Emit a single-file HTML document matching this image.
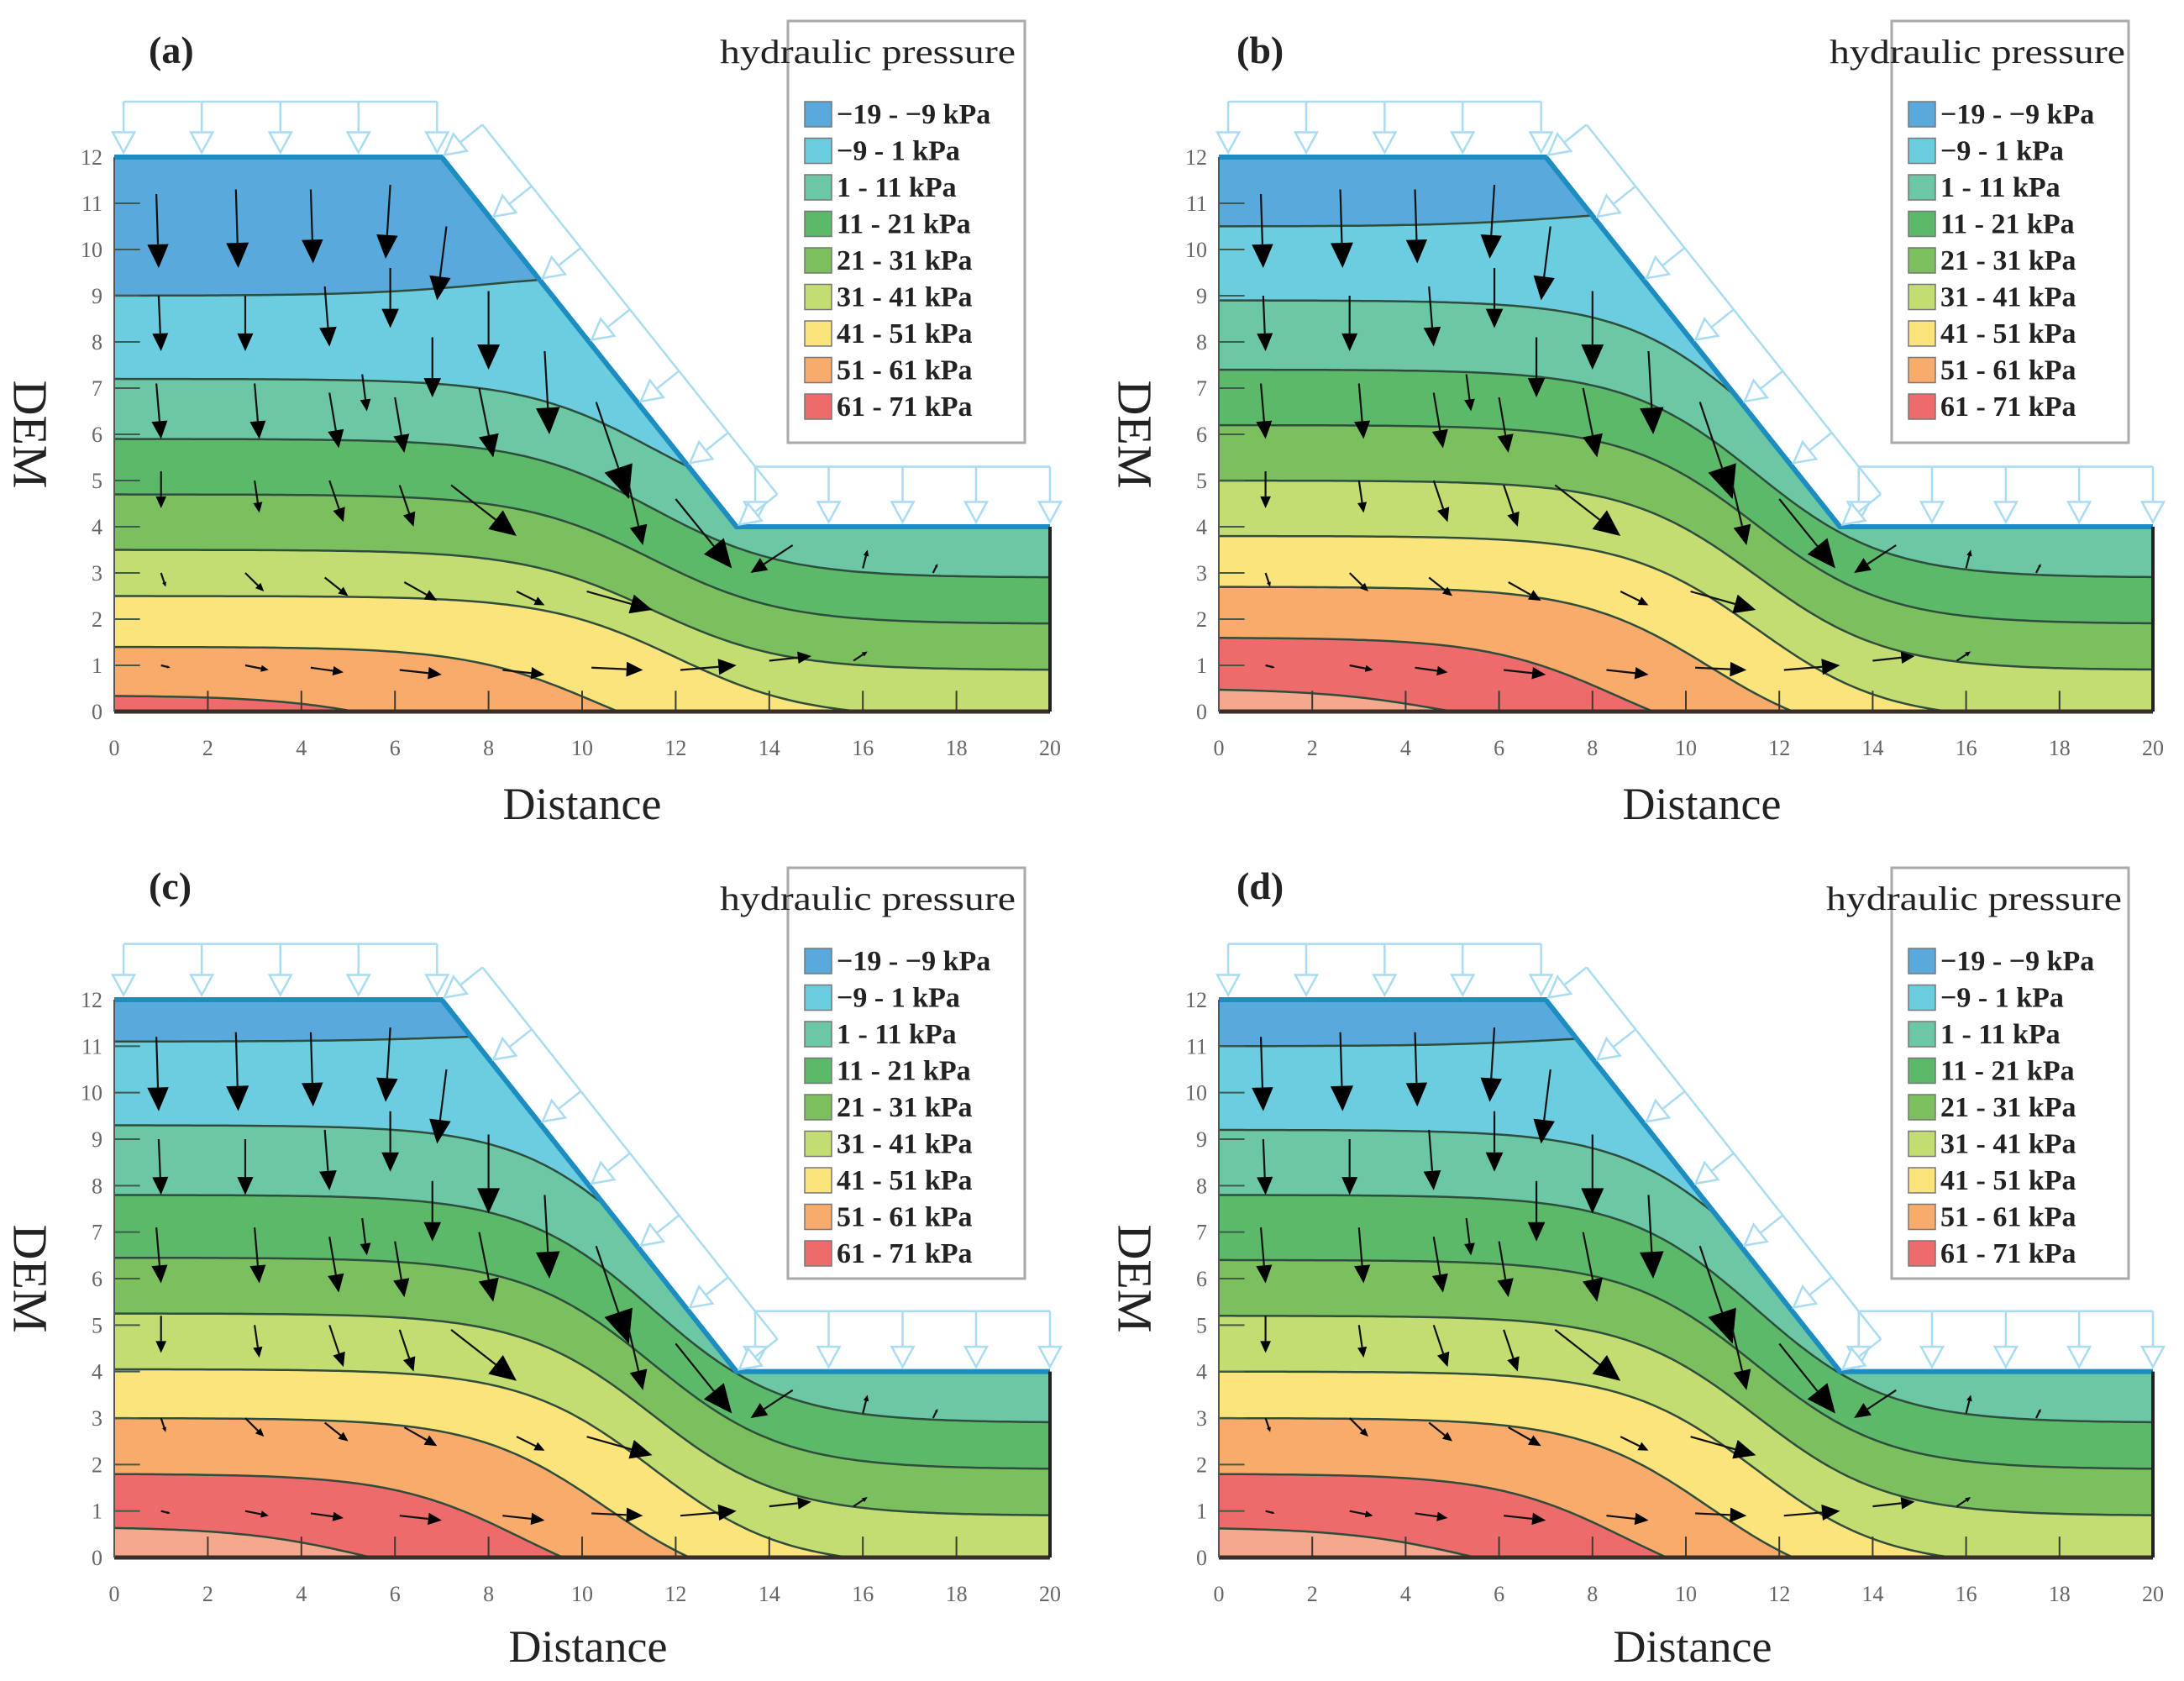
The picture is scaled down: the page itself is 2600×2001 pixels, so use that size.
<!DOCTYPE html>
<html><head><meta charset="utf-8"><style>
html,body{margin:0;padding:0;background:#fff;}
svg{display:block;}
</style></head><body>
<svg id="fig" xmlns="http://www.w3.org/2000/svg" width="2600" height="2001" viewBox="0 0 2600 2001"></svg>
<script>
// ---- data ----
const xTicks=[0,2,4,6,8,10,12,14,16,18,20];
const yTicks=[0,1,2,3,4,5,6,7,8,9,10,11,12];
const legendLabels=['\u221219 - \u22129 kPa','\u22129 - 1 kPa','1 - 11 kPa','11 - 21 kPa','21 - 31 kPa','31 - 41 kPa','41 - 51 kPa','51 - 61 kPa','61 - 71 kPa'];
const bandColors=['#5aa9dc','#6ccde0','#6cc7a4','#5cb96a','#7bbf5e','#c4dd72','#fbe47b','#f8ab6b','#ee6b6b','#f5a88e'];
const panelLetters=['(a)','(b)','(c)','(d)'];
const leftA=[9.0,7.2,5.9,4.7,3.5,2.5,1.4,0.35];
const rightA=[9.5,4.2,2.9,1.9,0.9,-0.15,-1,-1];
const centerA=[8,11.5,11.5,11.5,11.5,12,10.3,6.6];
const leftB=[10.5,8.9,7.4,6.2,5.0,3.8,2.7,1.6,0.5];
const rightB=[10.9,4.0,2.9,1.9,0.9,-0.2,-0.75,-0.9,-0.5];
const centerB=[7.5,11.5,11.5,11.5,11.5,11.5,10.5,8.5,5];
const leftC=[11.1,9.3,7.8,6.45,5.25,4.05,3.0,1.8,0.66];
const rightC=[11.3,4.0,2.9,1.9,0.9,-0.2,-0.83,-0.95,-0.66];
const centerC=[7.5,11.5,11.5,11.5,11.5,11.5,10.5,8.7,5.5];
const leftD=[11.0,9.2,7.8,6.4,5.2,4.0,3.0,1.8,0.65];
const rightD=[11.3,4.0,2.9,1.9,0.9,-0.2,-0.83,-0.95,-0.65];
const centerD=[7.5,11.5,11.5,11.5,11.5,11.5,10.5,8.7,5.5];
// flow vectors in data units
const arrowStartX=[0.9,2.6,4.2,5.9,7.1,0.95,2.8,4.5,5.9,8.0,9.2,6.8,5.3,0.9,3.0,4.6,6.0,7.8,10.3,11.0,1.0,3.0,4.6,6.1,7.2,12.0,14.5,1.0,2.8,4.5,6.2,8.6,10.1,1.0,2.8,4.2,6.1,8.3,10.2,12.1,14.0,15.8,16.0,17.5];
const arrowStartY=[11.2,11.3,11.3,11.4,10.5,9.0,9.0,9.2,9.6,9.1,7.8,8.1,7.3,7.1,7.1,6.9,6.8,7.0,6.7,4.9,5.2,5.0,5.0,4.9,4.9,4.6,3.6,3.0,3.0,2.9,2.8,2.6,2.6,1.0,1.0,0.95,0.9,0.9,0.95,0.9,1.1,1.1,3.1,3.0];
const arrowEndX=[0.95,2.65,4.25,5.8,6.9,1.0,2.8,4.6,5.9,8.0,9.3,6.8,5.4,1.0,3.1,4.8,6.2,8.1,11.0,11.3,1.0,3.1,4.9,6.4,8.6,13.2,13.6,1.1,3.2,5.0,6.9,9.2,11.5,1.2,3.3,4.9,7.0,9.2,11.3,13.3,14.9,16.1,16.1,17.6];
const arrowEndY=[9.6,9.6,9.7,9.8,8.9,7.8,7.8,7.9,8.3,7.4,6.0,6.8,6.5,5.9,5.9,5.7,5.6,5.5,4.6,3.6,4.4,4.3,4.1,4.0,3.8,3.1,3.0,2.7,2.6,2.5,2.4,2.3,2.2,0.95,0.9,0.85,0.8,0.8,0.9,1.0,1.2,1.3,3.5,3.2];
// ---- layout ----
const panels=[
 {left:leftA,right:rightA,center:centerA,x0:136,x1:1250,yb:847,yt:187,lx:938,ly:25,lh:502,tx:1033,label:[177,75],dem:36,dist:693,distY:975},
 {left:leftB,right:rightB,center:centerB,x0:1451,x1:2563,yb:847,yt:187,lx:2252,ly:25,lh:502,tx:2354,label:[1472,75],dem:1351,dist:2026,distY:975},
 {left:leftC,right:rightC,center:centerC,x0:136,x1:1250,yb:1854,yt:1190,lx:938,ly:1033,lh:489,tx:1033,label:[177,1070],dem:36,dist:700,distY:1978},
 {left:leftD,right:rightD,center:centerD,x0:1451,x1:2563,yb:1854,yt:1190,lx:2252,ly:1033,lh:489,tx:2350,label:[1472,1070],dem:1351,dist:2015,distY:1978}
];
const NS='http://www.w3.org/2000/svg';
const svg=document.getElementById('fig');
function mk(tag,attrs,parent){const e=document.createElementNS(NS,tag);for(const k in attrs)e.setAttribute(k,attrs[k]);(parent||svg).appendChild(e);return e;}
const W=1.4;
function bnd(L,R,c,x){return R+(L-R)/(1+Math.exp((x-c)/W));}
const serif='"Liberation Serif", serif';

panels.forEach((p,pi)=>{
  const g=mk('g',{});
  
  
  const sx=v=>p.x0+(p.x1-p.x0)*v/20;
  const sy=v=>p.yb-(p.yb-p.yt)*v/12;
  const dom=[[0,0],[0,12],[7,12],[13.3,4],[20,4],[20,0]];
  const domStr=dom.map(q=>sx(q[0])+','+sy(q[1])).join(' ');
  const cp=mk('clipPath',{id:'clip'+pi},g);
  mk('polygon',{points:domStr},cp);
  const cg=mk('g',{'clip-path':'url(#clip'+pi+')'},g);
  const bg=mk('polygon',{points:domStr,fill:bandColors[0]},cg);
  
  
  const curves=[];
  p.left.forEach((L,i)=>{
    const pts=[];
    for(let x=0;x<=20.001;x+=0.1){pts.push(sx(x).toFixed(1)+','+sy(bnd(L,p.right[i],p.center[i],x)).toFixed(1));}
    curves.push(pts);
    const poly=mk('polygon',{points:pts.join(' ')+' '+sx(20)+','+sy(-1)+' '+sx(0)+','+sy(-1),fill:bandColors[i+1]},cg);
    
    
  });
  curves.forEach((pts,i)=>{
    const pl=mk('polyline',{points:pts.join(' '),fill:'none',stroke:'#2f4d3c','stroke-width':2.5},cg);
    
    
  });
  yTicks.forEach(t=>{mk('line',{x1:sx(0),x2:sx(0.55),y1:sy(t),y2:sy(t),stroke:'#3d5a4a','stroke-width':2},cg);});
  xTicks.forEach(t=>{if(t>0&&t<20)mk('line',{x1:sx(t),x2:sx(t),y1:sy(0),y2:sy(0.45),stroke:'#3d3a30','stroke-width':2},cg);});
  arrowStartX.forEach((ax,i)=>{
    const x0=sx(ax),y0=sy(arrowStartY[i]),x1=sx(arrowEndX[i]),y1=sy(arrowEndY[i]);
    const dx=x1-x0,dy=y1-y0,len=Math.hypot(dx,dy),ux=dx/len,uy=dy/len;
    const hl=Math.min(0.32*len,48),hw=hl*0.45;
    const bx=x1-ux*hl,by=y1-uy*hl;
    const a=mk('g',{},cg);
    
    
    mk('line',{x1:x0,y1:y0,x2:bx,y2:by,stroke:'#111','stroke-width':2.2},a);
    mk('polygon',{points:x1+','+y1+' '+(bx-uy*hw)+','+(by+ux*hw)+' '+(bx+uy*hw)+','+(by-ux*hw),fill:'#000'},a);
  });
  const surf=mk('polyline',{points:[[0,12],[7,12],[13.3,4],[20,4]].map(q=>sx(q[0])+','+sy(q[1])).join(' '),fill:'none',stroke:'#1d8cc0','stroke-width':6},g);
  
  
  mk('line',{x1:sx(0),x2:sx(20),y1:sy(0),y2:sy(0),stroke:'#3a2f28','stroke-width':5},g);
  mk('line',{x1:sx(20),x2:sx(20),y1:sy(0),y2:sy(4),stroke:'#222','stroke-width':4},g);
  mk('line',{x1:sx(0),x2:sx(0),y1:sy(0),y2:sy(12),stroke:'#555','stroke-width':2},g);
  const lc='#a9dcf2';
  const lg=mk('g',{fill:'none',stroke:lc,'stroke-width':2.5},g);
  
  
  function loadArrow(xa,ya,xb,yb){
    mk('line',{x1:xa,y1:ya,x2:xb,y2:yb},lg);
    const dx=xb-xa,dy=yb-ya,l=Math.hypot(dx,dy),ux=dx/l,uy=dy/l,h=24,w=13;
    const bx=xb-ux*h,by=yb-uy*h;
    mk('polygon',{points:xb+','+yb+' '+(bx-uy*w)+','+(by+ux*w)+' '+(bx+uy*w)+','+(by-ux*w),fill:'#fff'},lg);
  }
  mk('line',{x1:sx(0.2),x2:sx(6.9),y1:sy(13.2),y2:sy(13.2)},lg);
  [0.2,1.87,3.55,5.22,6.9].forEach(x=>loadArrow(sx(x),sy(13.2),sx(x),sy(12.1)));
  mk('line',{x1:sx(13.7),x2:sx(20),y1:sy(5.3),y2:sy(5.3)},lg);
  [13.7,15.27,16.85,18.42,20].forEach(x=>loadArrow(sx(x),sy(5.3),sx(x),sy(4.1)));
  const ax0=sx(7),ay0=sy(12),ax1=sx(13.3),ay1=sy(4);
  const sdx=ax1-ax0,sdy=ay1-ay0,sl=Math.hypot(sdx,sdy),nx=sdy/sl,ny=-sdx/sl,off=62;
  mk('line',{x1:ax0+nx*off,y1:ay0+ny*off,x2:ax1+nx*off,y2:ay1+ny*off},lg);
  for(let k=0;k<=6;k++){const t=k/6,px=ax0+sdx*t,py=ay0+sdy*t;loadArrow(px+nx*off,py+ny*off,px+nx*4,py+ny*4);}
  xTicks.forEach(t=>{const e=mk('text',{x:sx(t),y:p.yb+52,'text-anchor':'middle','font-family':serif,'font-size':26,fill:'#666'},g);e.textContent=t;
    });
  yTicks.forEach(t=>{const e=mk('text',{x:p.x0-14,y:sy(t)+9,'text-anchor':'end','font-family':serif,'font-size':26,fill:'#666'},g);e.textContent=t;
    });
  const xt=mk('text',{x:p.dist,y:p.distY,'text-anchor':'middle','font-family':serif,'font-size':54,fill:'#222'},g);xt.textContent='Distance';
  
  const cy=(p.yb+p.yt)/2;
  const yt=mk('text',{x:p.dem,y:cy,'text-anchor':'middle','font-family':serif,'font-size':58,fill:'#222',transform:'rotate(90 '+p.dem+' '+cy+')','dominant-baseline':'central'},g);yt.textContent='DEM';
  
  const pl=mk('text',{x:p.label[0],y:p.label[1],'font-family':serif,'font-size':46,'font-weight':'bold',fill:'#222'},g);pl.textContent=panelLetters[pi];
  
  const leg=mk('g',{},g);
  
  
  mk('rect',{x:p.lx,y:p.ly,width:282,height:p.lh,fill:'none',stroke:'#aaa','stroke-width':3},leg);
  const lt=mk('text',{x:p.tx,y:p.ly+50,'text-anchor':'middle','font-family':serif,'font-size':40,fill:'#222',textLength:352,lengthAdjust:'spacingAndGlyphs'},leg);lt.textContent='hydraulic pressure';
  
  legendLabels.forEach((s,i)=>{
    const ry=p.ly+111+i*43.5;
    const e=mk('g',{},leg);
    
    
    mk('rect',{x:p.lx+20,y:ry-15,width:32,height:30,fill:bandColors[i],stroke:'#777','stroke-width':1.5},e);
    const tx=mk('text',{x:p.lx+58,y:ry+11,'font-family':serif,'font-size':34,'font-weight':'bold',fill:'#222'},e);tx.textContent=s;
  });
});
</script>
</body></html>
